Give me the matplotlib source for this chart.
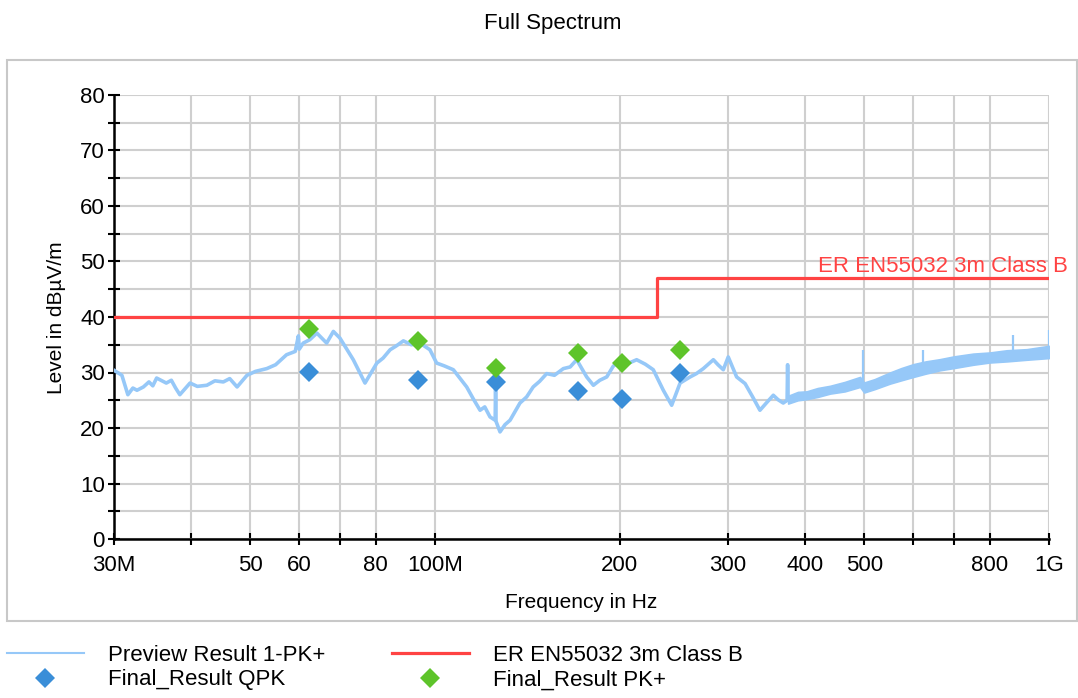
import numpy as np
import matplotlib.pyplot as plt
from matplotlib.patches import Rectangle
from matplotlib.lines import Line2D

plt.rcParams['font.family'] = ['Liberation Sans', 'DejaVu Sans']

# preview scan PK+ (frequency in MHz, level in dBuV/m)
preview_freq = [30.0, 30.9, 31.6, 32.2, 32.7, 33.5, 34.2, 34.7, 35.2, 36.5, 37.2, 37.8, 38.4, 39.9,
                41.0, 42.5, 43.8, 45.2, 46.3, 47.6, 49.4, 51.0, 53.2, 55.0, 57.3, 59.2, 59.9, 60.1,
                61.0, 62.5, 64.2, 66.6, 68.3, 70.0, 73.6, 76.9, 80.4, 82.3, 84.5, 86.5, 88.8, 91.5,
                94.5, 98.1, 100.6, 103.5, 107.1, 112.6, 115.5, 118.4, 120.5, 122.9, 125.3, 125.5,
                125.7, 127.6, 130.0, 132.5, 137.5, 141.0, 144.5, 148.0, 152.0, 156.5, 161.8, 166.0,
                170.1, 176.6, 181.1, 185.5, 190.4, 195.0, 200.1, 206.0, 213.0, 220.0, 226.7, 235.4,
                242.9, 250.7, 260.3, 266.5, 273.5, 284.0, 289.0, 294.8, 300.3, 309.9, 319.9, 329.5,
                338.2, 347.0, 355.6, 362.0, 369.1, 374.5, 375.2, 375.9]
preview_level = [30.4, 29.5, 26.0, 27.2, 26.8, 27.4, 28.3, 27.6, 29.0, 28.1, 28.6, 27.2, 26.0, 28.1,
                 27.5, 27.7, 28.5, 28.3, 28.9, 27.4, 29.5, 30.2, 30.7, 31.4, 33.2, 33.8, 36.6, 34.2,
                 35.3, 35.9, 37.1, 35.3, 37.4, 36.2, 32.3, 28.1, 31.7, 32.6, 34.1, 34.8, 35.7, 35.0,
                 35.3, 34.1, 31.7, 31.2, 30.5, 27.4, 25.2, 23.2, 23.8, 22.0, 21.4, 28.2,
                 21.2, 19.3, 20.6, 21.4, 24.5, 25.6, 27.4, 28.4, 29.8, 29.5, 30.7, 31.0,
                 32.3, 29.2, 27.7, 28.6, 29.2, 31.1, 32.3, 31.6, 32.3, 31.5, 30.5, 26.8,
                 24.1, 28.1, 29.2, 29.8, 30.7, 32.3, 31.4, 30.5, 32.8, 29.2, 28.0, 25.5,
                 23.2, 24.6, 25.9, 25.1, 24.5, 25.0, 31.4, 25.0]

# 375 MHz - 1 GHz: noisy band, lower and upper edge
band_freq = [375.9, 390.0, 403.0, 420.0, 440.0, 465.0, 492.3, 500.0, 520.0, 550.8, 575.0, 601.3,
             630.0, 664.3, 700.0, 752.6, 800.0, 853.3, 920.0, 1000.0]
band_low = [24.4, 25.0, 25.2, 25.6, 26.2, 26.6, 27.4, 26.4, 27.0, 28.0, 28.6, 29.2,
            29.8, 30.4, 30.8, 31.4, 31.8, 32.0, 32.3, 32.6]
band_high = [25.8, 26.5, 26.6, 27.2, 27.6, 28.3, 29.2, 28.2, 28.8, 30.0, 30.8, 31.5,
             32.0, 32.4, 32.9, 33.4, 33.6, 34.0, 34.2, 34.8]

# narrow spikes on top of the band
spike_freq = [498.0, 623.5, 873.8, 999.0]
spike_base = [28.5, 31.0, 33.3, 34.0]
spike_top = [34.0, 34.0, 36.8, 37.7]

# limit line
limit_freq = [30, 230, 230, 1000]
limit_level = [40, 40, 47, 47]

# final measurements
final_freq = [62.4, 93.9, 125.5, 171.1, 201.8, 250.9]
qpk_level = [30.1, 28.6, 28.2, 26.7, 25.2, 30.0]
pk_level = [37.9, 35.7, 30.9, 33.6, 31.8, 34.1]

x_ticks = [30, 40, 50, 60, 70, 80, 100, 200, 300, 400, 500, 600, 700, 800, 1000]
x_labels = ['30M', '', '50', '60', '', '80', '100M', '200', '300', '400', '500', '', '', '800', '1G']

c_trace = '#96c8f8'
c_limit = '#ff4343'
c_qpk = '#3a8ed8'
c_pk = '#5ec42a'

fig = plt.figure(figsize=(10.78, 6.98), dpi=100)
W, H = 1078, 698
ax = fig.add_axes([114 / W, 1 - 539 / H, 935 / W, 444 / H])

ax.plot(preview_freq, preview_level, color=c_trace, lw=2.6, zorder=3)
ax.fill_between(band_freq, band_low, band_high, color=c_trace, lw=1.2, zorder=3)
ax.vlines(spike_freq, spike_base, spike_top, color=c_trace, lw=1.6, zorder=3)
ax.plot(limit_freq, limit_level, color=c_limit, lw=2.3, zorder=4)
ax.plot(final_freq, qpk_level, 'D', color=c_qpk, ms=10, mew=0, zorder=5)
ax.plot(final_freq, pk_level, 'D', color=c_pk, ms=10, mew=0, zorder=5)

ax.text(420.6, 48.1, 'ER EN55032 3m Class B', color=c_limit, fontsize=16,
        va='baseline', ha='left', clip_on=False)

ax.set_xscale('log')
ax.set_xlim(30, 1000)
ax.set_ylim(0, 80)
ax.set_xticks(x_ticks)
ax.set_xticklabels(x_labels)
ax.xaxis.set_minor_locator(plt.NullLocator())
ax.set_yticks(range(0, 81, 10))
ax.set_yticks(range(5, 80, 10), minor=True)

ax.grid(True, which='both', color='#cfcfcf', lw=1.5, zorder=0)
ax.set_axisbelow(True)
for s in ['top', 'right']:
    ax.spines[s].set_visible(False)
for s in ['left', 'bottom']:
    ax.spines[s].set_linewidth(1.8)
ax.tick_params(which='both', direction='inout', length=8, width=1.5, labelsize=16)
ax.tick_params(axis='y', pad=2.5)
ax.tick_params(axis='x', pad=7.5)

fig.text(553 / W, 1 - 23 / H, 'Full Spectrum', ha='center', va='center', fontsize=16)
fig.text(581.5 / W, 1 - 603 / H, 'Frequency in Hz', ha='center', va='center', fontsize=15)
fig.text(57 / W, 1 - 318 / H, 'Level in dBµV/m', ha='center', va='center', fontsize=15,
         rotation=90)

fig.patches.append(Rectangle((7 / W, 1 - 621 / H), 1070 / W, 561 / H, transform=fig.transFigure,
                             fill=False, ec='#c8c8c8', lw=1.5))

handles = [Line2D([], [], color=c_trace, lw=1.5),
           Line2D([], [], ls='', marker='D', color=c_qpk, ms=10, mew=0),
           Line2D([], [], color=c_limit, lw=2.3),
           Line2D([], [], ls='', marker='D', color=c_pk, ms=10, mew=0)]
labels = ['Preview Result 1-PK+', 'Final_Result QPK', 'ER EN55032 3m Class B', 'Final_Result PK+']
fig.legend(handles, labels, ncol=2, loc='upper left', bbox_to_anchor=(7 / W, 1 - 645 / H),
           frameon=False, fontsize=16, handlelength=3.45, handletextpad=1.1, columnspacing=3.0,
           labelspacing=0.15, borderpad=0, borderaxespad=0)

fig.savefig('out.png', dpi=100)
